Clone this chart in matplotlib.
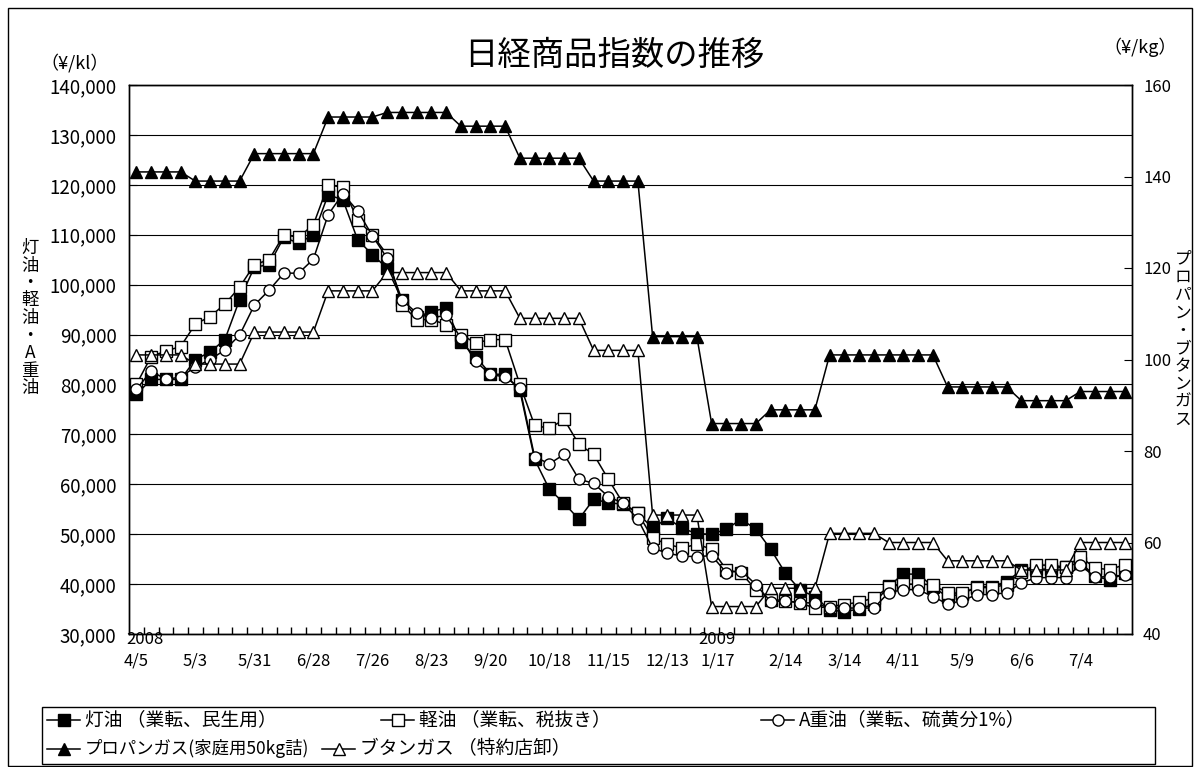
import numpy as np
import matplotlib.pyplot as plt
from matplotlib.lines import Line2D
from matplotlib.patches import Rectangle
from matplotlib.ticker import FuncFormatter
from matplotlib.transforms import ScaledTranslation, blended_transform_factory

plt.rcParams['font.family'] = ['Noto Sans CJK JP', 'DejaVu Sans']

# ==== データ (週次, 2008/4/5 - 2009/7/25) ====
tick_labels = ['4/5', '5/3', '5/31', '6/28', '7/26', '8/23', '9/20', '10/18', '11/15',
               '12/13', '1/17', '2/14', '3/14', '4/11', '5/9', '6/6', '7/4']
years = {'2008': 0, '2009': 40}

kerosene = [78000, 81000, 81000, 81000, 85000, 86500, 89000, 97000, 103500, 104000,
            109500, 108300, 110000, 118000, 117000, 109000, 106000, 103300, 97000, 93500,
            94600, 95300, 88500, 85600, 82100, 82000, 78800, 65000, 59000, 56200,
            53000, 57000, 56300, 56000, 54200, 51200, 53200, 51200, 50100, 50000,
            51000, 53000, 51000, 47000, 42200, 38800, 37500, 34800, 34500, 35000,
            36000, 39600, 42000, 42000, 39500, 37400, 38100, 39500, 39500, 40500,
            42800, 43000, 43000, 43500, 44300, 41600, 40800, 42200]

light_oil = [80000, 85600, 86700, 87600, 92100, 93600, 96100, 99500, 104000, 105000,
             110000, 109500, 112000, 120000, 119500, 113000, 110000, 106000, 96000, 93000,
             93000, 92000, 90000, 88300, 89000, 89000, 80000, 71800, 71200, 73000,
             68000, 66000, 61000, 56200, 54200, 49200, 48000, 47200, 48000, 47000,
             42900, 42200, 38900, 36900, 36700, 36200, 35200, 35500, 35900, 36400,
             37200, 39400, 40000, 40000, 39900, 38200, 38200, 39300, 39300, 39900,
             42500, 43800, 43800, 43400, 45500, 43200, 42900, 43900]

a_heavy = [79000, 82700, 81000, 81500, 83500, 85000, 86900, 89900, 95900, 98900,
           102300, 102300, 105100, 114000, 118200, 114800, 109800, 105300, 97000, 94300,
           93300, 93900, 89300, 84600, 82000, 81500, 79300, 65500, 64100, 66000,
           61000, 60200, 57500, 56200, 53000, 47200, 46200, 45600, 45500, 45700,
           42300, 42700, 39900, 36500, 36600, 36300, 36200, 35200, 35200, 35200,
           35200, 38300, 38900, 38900, 37500, 36000, 36700, 37900, 37900, 38300,
           40200, 41300, 41300, 41300, 43800, 41400, 41500, 41800]

propane = ([141] * 4 + [139] * 4 + [145] * 5 + [153] * 4 + [154] * 5 + [151] * 4 +
           [144] * 5 + [139] * 4 + [105] * 4 + [86] * 4 + [89] * 4 + [101] * 8 +
           [94] * 5 + [91] * 4 + [93] * 4)

butane = ([101] * 4 + [99] * 4 + [106] * 5 + [115] * 4 + [119] * 5 + [115] * 4 +
          [109] * 5 + [102] * 4 + [66] * 4 + [46] * 4 + [50] * 4 + [62] * 4 +
          [60] * 4 + [56] * 5 + [54] * 4 + [60] * 4)

W, H = 1202, 767
fig = plt.figure(figsize=(W / 100, H / 100), dpi=100)

def fx(px):
    return px / W

def fy(py):
    return 1 - py / H

ax = fig.add_axes([fx(129), fy(634), fx(1132) - fx(129), fy(85) - fy(634)])
ax2 = ax.twinx()

x = np.arange(len(kerosene))
lw, mew = 1.1, 1.0
styles = [
    (ax, kerosene, dict(marker='s', ms=8, mfc='black')),
    (ax, light_oil, dict(marker='s', ms=8, mfc='white')),
    (ax, a_heavy, dict(marker='o', ms=8, mfc='white')),
    (ax2, propane, dict(marker='^', ms=9, mfc='black')),
    (ax2, butane, dict(marker='^', ms=9, mfc='white')),
]
for a, vals, st in styles:
    a.plot(x, vals, color='black', lw=lw, mec='black', mew=mew, **st)

# 左軸
ax.set_ylim(30000, 140000)
ax.set_yticks(np.arange(30000, 140001, 10000))
ax.yaxis.set_major_formatter(FuncFormatter(lambda v, p: f'{int(v):,}'))
ax.grid(axis='y', color='black', lw=0.8)
ax.set_axisbelow(True)
ax.tick_params(axis='y', direction='in', length=6, labelsize=13.5, pad=9)

# 右軸
ax2.set_ylim(40, 160)
ax2.set_yticks(np.arange(40, 161, 20))
ax2.tick_params(axis='y', direction='in', length=6, labelsize=12, pad=8)

# 横軸
ax.set_xlim(-0.5, len(x) - 0.5)
ax.set_xticks(np.arange(0, len(x), 4))
ax.set_xticklabels(tick_labels)
ax.set_xticks(np.arange(0.5, len(x) - 1, 1), minor=True)
ax.tick_params(axis='x', which='major', length=0, labelsize=12, pad=13)
ax.tick_params(axis='x', which='minor', direction='in', length=5, width=1)
for lbl in ax.get_xticklabels():
    if lbl.get_text() == '1/17':
        lbl.set_transform(lbl.get_transform() + ScaledTranslation(-0.09, 0, fig.dpi_scale_trans))

yr_tr = blended_transform_factory(ax.transData, fig.transFigure)
ax.text(years['2008'] + 0.6, fy(640), '2008', transform=yr_tr, ha='center', va='center', fontsize=12)
ax.text(years['2009'] - 0.65, fy(640), '2009', transform=yr_tr, ha='center', va='center', fontsize=12)

for a in (ax, ax2):
    for s in a.spines.values():
        s.set_linewidth(1.0)

# タイトル・単位
fig.text(fx(614), fy(55), '日経商品指数の推移', ha='center', va='center', fontsize=24)
fig.text(fx(75), fy(63), '（¥/kl）', ha='center', va='center', fontsize=13)
fig.text(fx(1140), fy(47), '（¥/kg）', ha='center', va='center', fontsize=13)

left_label = '灯油・軽油・A重油'
for i, ch in enumerate(left_label):
    fig.text(fx(30), fy(248 + 17.5 * i), ch, ha='center', va='center', fontsize=12.5)
right_label = 'プロパン・ブタンガス'
for i, ch in enumerate(right_label):
    fig.text(fx(1183), fy(259 + 17.9 * i), ch, ha='center', va='center', fontsize=12)

# 外枠
fig.patches.append(Rectangle((fx(8), fy(766)), fx(1192) - fx(8), fy(8) - fy(766),
                             transform=fig.transFigure, fill=False, ec='black', lw=1.0))

# 凡例
fig.patches.append(Rectangle((fx(42), fy(764)), fx(1155) - fx(42), fy(707) - fy(764),
                             transform=fig.transFigure, fill=False, ec='black', lw=1.0))
legend_items = [
    ('灯油 （業転、民生用）', dict(marker='s', ms=8, mfc='black'), 47, 720),
    ('軽油 （業転、税抜き）', dict(marker='s', ms=8, mfc='white'), 381, 720),
    ('A重油（業転、硫黄分1%）', dict(marker='o', ms=8, mfc='white'), 761, 720),
    ('プロパンガス(家庭用50kg詰)', dict(marker='^', ms=9, mfc='black'), 47, 749),
    ('ブタンガス （特約店卸）', dict(marker='^', ms=9, mfc='white'), 322, 749),
]
for label, st, x0, y0 in legend_items:
    fig.add_artist(Line2D([fx(x0), fx(x0 + 33)], [fy(y0), fy(y0)], color='black', lw=lw,
                          transform=fig.transFigure))
    fig.add_artist(Line2D([fx(x0 + 16.5)], [fy(y0)], color='black', mec='black', mew=mew,
                          transform=fig.transFigure, **st))
    fs = 12.5 if label.startswith('プロパン') else 13.5
    fig.text(fx(x0 + 38), fy(y0), label, ha='left', va='center', fontsize=fs)

fig.savefig('out.png', dpi=100)
